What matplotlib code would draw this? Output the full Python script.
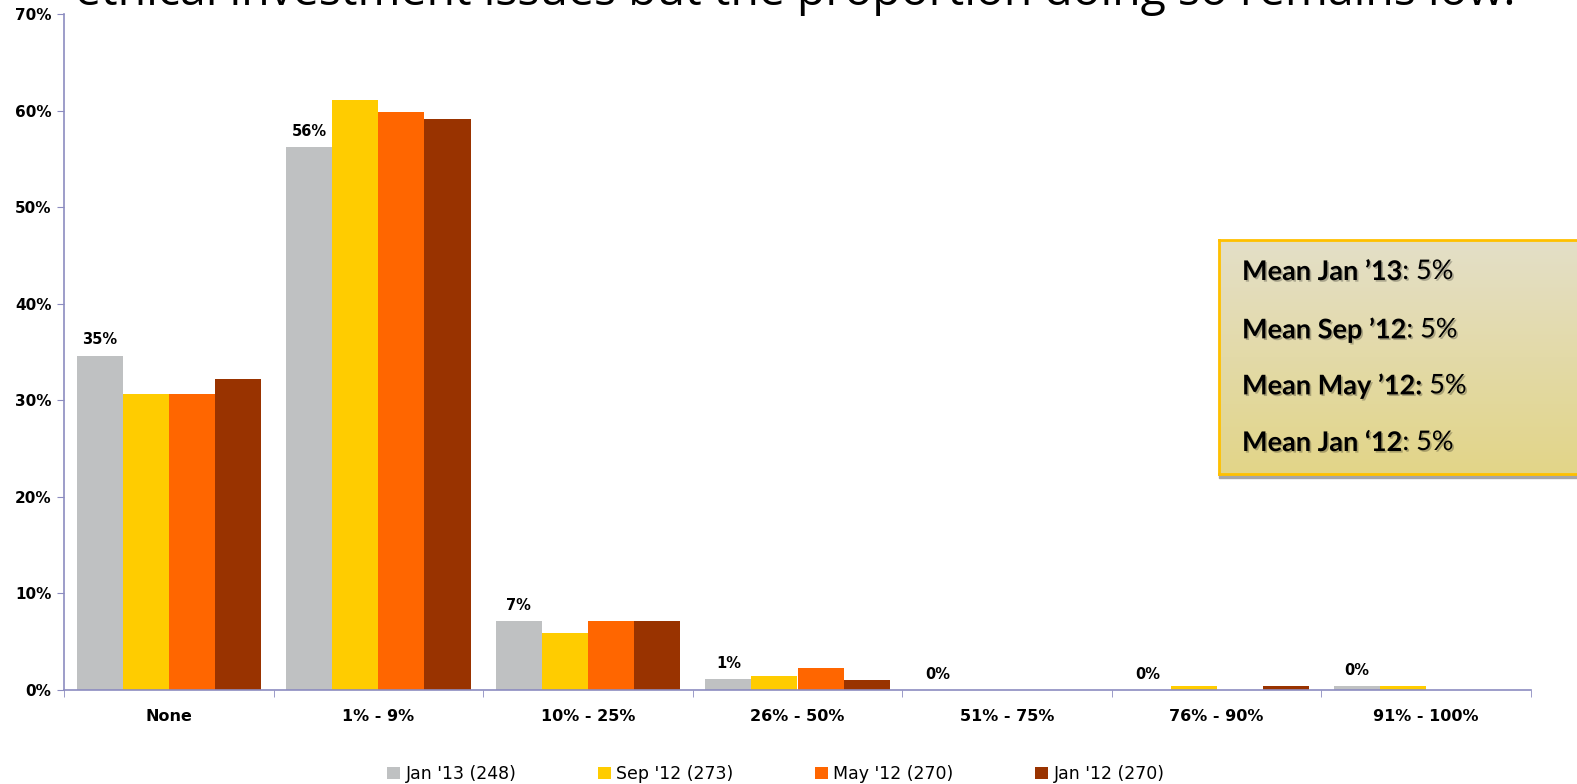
import matplotlib.pyplot as plt
import matplotlib.patheffects as pe
import numpy as np
from matplotlib.patches import Rectangle
from matplotlib.ticker import FixedLocator, PercentFormatter

categories = ["None", "1% - 9%", "10% - 25%", "26% - 50%", "51% - 75%", "76% - 90%", "91% - 100%"]
series_names = ["Jan '13 (248)", "Sep '12 (273)", "May '12 (270)", "Jan '12 (270)"]
jan13 = [34.6, 56.2, 7.1, 1.1, 0.0, 0.0, 0.4]
sep12 = [30.7, 61.1, 5.9, 1.5, 0.0, 0.4, 0.4]
may12 = [30.7, 59.9, 7.1, 2.3, 0.0, 0.0, 0.0]
jan12 = [32.2, 59.1, 7.1, 1.0, 0.0, 0.4, 0.0]
jan13_labels = ["35%", "56%", "7%", "1%", "0%", "0%", "0%"]
mean_lines = [("Mean Jan \u201913", ": 5%"), ("Mean Sep \u201912", ": 5%"),
              ("Mean May \u201912:", " 5%"), ("Mean Jan \u201812", ": 5%")]
title = "ethical investment issues but the proportion doing so remains low."

colors = ["#BFC1C2", "#FFCC00", "#FF6600", "#993300"]
axis_color = "#8C8CC0"

fig = plt.figure(figsize=(15.77, 7.84), dpi=100)
ax = fig.add_axes([64 / 1577, 1 - 690 / 784, (1531 - 64) / 1577, (690 - 14) / 784])

x = np.arange(len(categories))
width = 0.22
for i, (vals, c, name) in enumerate(zip([jan13, sep12, may12, jan12], colors, series_names)):
    ax.bar(x + (i - 1.5) * width, vals, width, color=c, label=name, linewidth=0)

for xi, v, lab in zip(x, jan13, jan13_labels):
    ax.annotate(lab, (xi - 1.5 * width, v), xytext=(0, 11.5), textcoords="offset points",
                ha="center", va="center", fontsize=10.5, fontweight="bold")

ax.set_xlim(-0.5, len(categories) - 0.5)
ax.set_ylim(0, 70)
ax.yaxis.set_major_locator(FixedLocator(np.arange(0, 71, 10)))
ax.yaxis.set_major_formatter(PercentFormatter(decimals=0))
ax.set_xticks(x)
ax.set_xticklabels(categories)
ax.xaxis.set_minor_locator(FixedLocator(np.arange(-0.5, len(categories), 1.0)))
ax.tick_params(axis="x", which="major", length=0, pad=14, labelsize=11.5)
ax.tick_params(axis="x", which="minor", length=5, color=axis_color, direction="out")
ax.tick_params(axis="y", length=5, color=axis_color, direction="out", labelsize=11, pad=4)
for lab in ax.get_xticklabels() + ax.get_yticklabels():
    lab.set_fontweight("bold")
for side in ["top", "right"]:
    ax.spines[side].set_visible(False)
for side in ["left", "bottom"]:
    ax.spines[side].set_color(axis_color)
    ax.spines[side].set_linewidth(1.2)

fig.legend(loc="center", bbox_to_anchor=(0.492, 1 - 774 / 784), ncol=4, frameon=False,
           fontsize=12.5, handlelength=0.75, handleheight=0.75, handletextpad=0.3,
           columnspacing=4.7)

# title runs off the top edge
fig.text(75 / 1577, 1 - 5 / 784, title, fontsize=33.4, family="Open Sans",
         ha="left", va="baseline", color="black")

# mean summary box with gradient fill and drop shadow
bx0, bx1 = 1219 / 1577, 1.05
by0, by1 = 1 - 474 / 784, 1 - 240 / 784
fig.patches.append(Rectangle((bx0, by0 - 4 / 784), bx1 - bx0, by1 - by0,
                             transform=fig.transFigure, color="#A6A6A6", zorder=1))
box = fig.add_axes([bx0, by0, bx1 - bx0, by1 - by0], zorder=2)
grad = np.linspace(0, 1, 256)[:, None]
top_c = np.array([0xE4, 0xDF, 0xC8]) / 255
bot_c = np.array([0xE2, 0xD5, 0x88]) / 255
img = top_c[None, None, :] * (1 - grad[:, :, None]) + bot_c[None, None, :] * grad[:, :, None]
box.imshow(img, aspect="auto", extent=[0, 1, 0, 1])
box.set_xticks([])
box.set_yticks([])
for s in box.spines.values():
    s.set_color("#FFC000")
    s.set_linewidth(2)

shadow = [pe.withSimplePatchShadow(offset=(1.2, -1.2), shadow_rgbFace="black", alpha=0.25)]
for ypx, (bold_part, plain_part) in zip([272, 330, 386, 443], mean_lines):
    t = fig.text(1242 / 1577, 1 - ypx / 784, bold_part, fontsize=19.5, family="Lato",
                 fontweight="bold", ha="left", va="center", zorder=5, path_effects=shadow)
    fig.add_artist(plt.Annotation(plain_part, xy=(1, 0), xycoords=t, va="bottom", ha="left",
                                  fontsize=19.5, family="Lato", zorder=5, path_effects=shadow))

fig.savefig("out.png", dpi=100)
